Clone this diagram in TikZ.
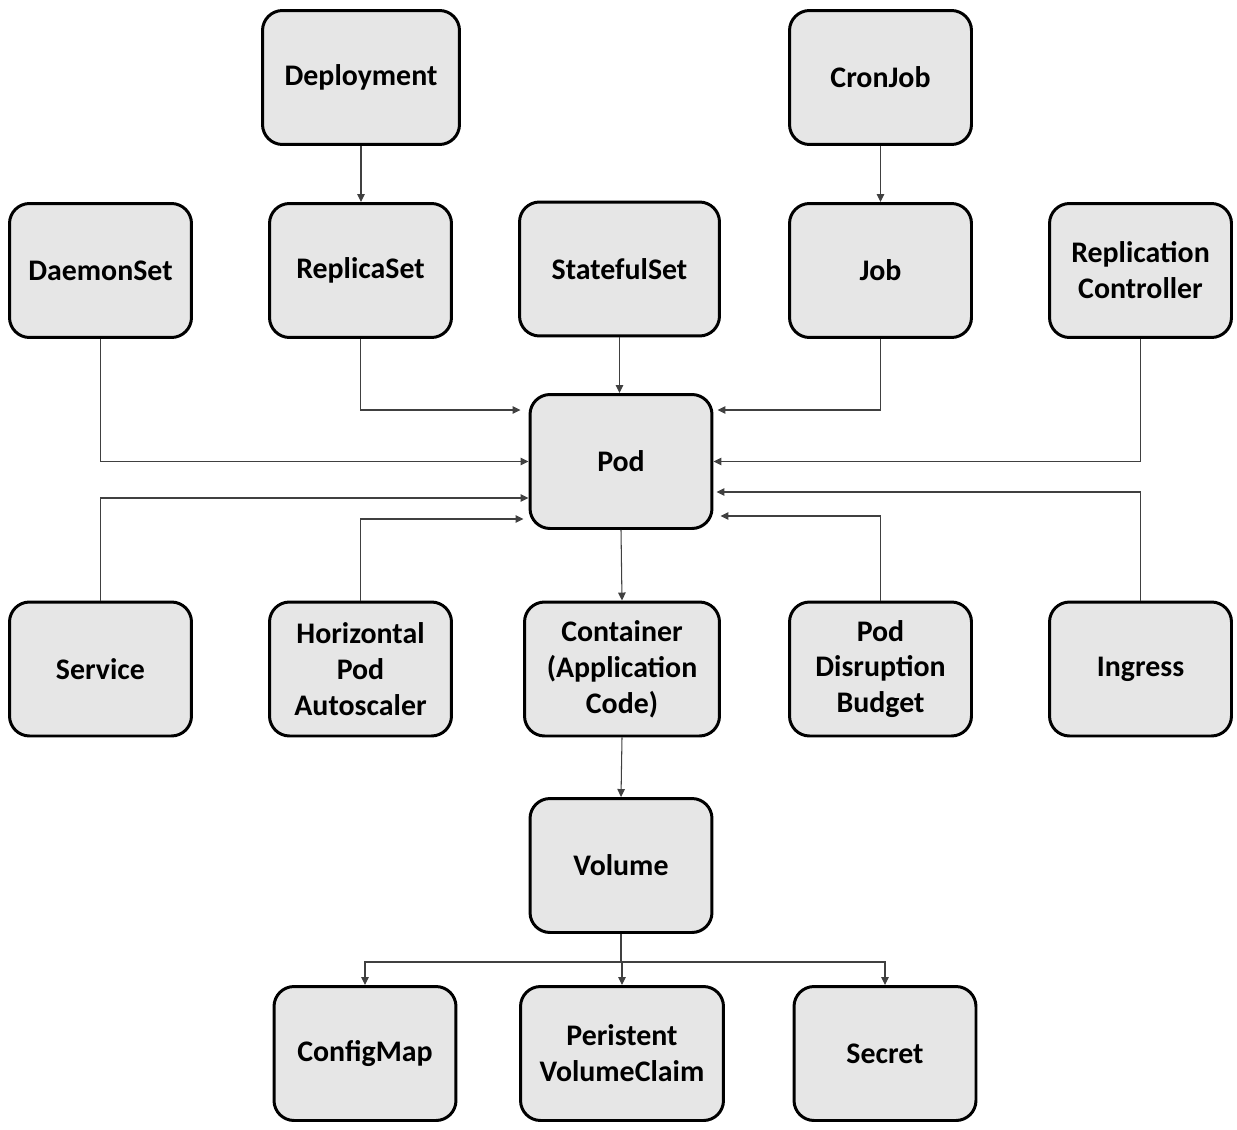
\documentclass[tikz,border=0pt]{standalone}
\usepackage{fontspec}
\setmainfont{Carlito}
\usepackage{tikz}
\usetikzlibrary{arrows.meta,calc,positioning}
\usepackage{xcolor}
\definecolor{boxfill}{HTML}{E6E6E6}
\definecolor{linegray}{HTML}{404040}

\begin{document}
\begin{tikzpicture}[>={Triangle[length=0.16cm,width=0.15cm]},x=0.02cm,y=-0.02cm,
  kbox/.style={draw,fill=boxfill,line width=1.7pt,rounded corners=0.4cm,align=center,
    minimum width=3.64cm,minimum height=2.68cm,inner sep=2pt,
    font=\fontsize{17}{20.4}\selectfont\bfseries},
  link/.style={->,linegray,line width=0.6pt}]
  \useasboundingbox (0,0) rectangle (1237,1129);
  % controllers
  \node[kbox,minimum width=3.94cm] (dep) at (361,77.5) {Deployment};
  \node[kbox] (cron) at (880.5,77.5) {CronJob};
  \node[kbox] (ds) at (100.5,270.5) {DaemonSet};
  \node[kbox] (rs) at (360.5,270.5) {ReplicaSet};
  \node[kbox,minimum width=4cm] (sts) at (619.5,269) {StatefulSet};
  \node[kbox] (job) at (880.5,270.5) {Job};
  \node[kbox] (rc) at (1140.5,270.5) {Replication\\Controller};
  % pod
  \node[kbox] (pod) at (621,461.5) {Pod};
  % around the pod
  \node[kbox] (svc) at (100.5,669) {Service};
  \node[kbox] (hpa) at (360.5,669) {Horizontal\\Pod\\Autoscaler};
  \node[kbox,minimum width=3.9cm] (ctr) at (622,669) {Container\\(Application\\Code)};
  \node[kbox] (pdb) at (880.5,669) {Pod\\Disruption\\Budget};
  \node[kbox] (ing) at (1140.5,669) {Ingress};
  % storage
  \node[kbox] (vol) at (621,865.5) {Volume};
  \node[kbox] (cm) at (365,1053.5) {ConfigMap};
  \node[kbox,minimum width=4.06cm] (pvc) at (622,1053.5) {Peristent\\VolumeClaim};
  \node[kbox] (sec) at (885,1053.5) {Secret};

  \draw[link] (dep.south) -- (dep.south |- rs.north);
  \draw[link] (cron.south) -- (job.north);
  \draw[link] (sts.south) -- (sts.south |- pod.north);
  \draw[link,shorten >=0.16cm] (rs.south) |- ([yshift=1.03cm]pod.west);
  \draw[link,shorten >=0.08cm] (job.south) |- ([yshift=1.03cm]pod.east);
  \draw[link] (ds.south) |- (pod.west);
  \draw[link] (rc.south) |- (pod.east);
  \draw[link] (svc.north) |- ([yshift=-0.73cm]pod.west);
  \draw[link,shorten >=0.1cm] (hpa.north) |- ([yshift=-1.15cm]pod.west);
  \draw[link,shorten >=0.14cm] (pdb.north) |- ([yshift=-1.09cm]pod.east);
  \draw[link,shorten >=0.06cm] (ing.north) |- ([yshift=-0.61cm]pod.east);
  \draw[link] (pod.south) -- (ctr.north);
  \draw[link] (ctr.south) -- (vol.north);
  \coordinate (vsplit) at ([yshift=-0.56cm]vol.south);
  \draw[linegray,line width=0.6pt] (vol.south) -- (vsplit);
  \draw[link] (vsplit) -| (cm.north);
  \draw[link] (vsplit) -- (vsplit -| pvc.north) -- (pvc.north);
  \draw[link] (vsplit) -| (sec.north);
\end{tikzpicture}
\end{document}
